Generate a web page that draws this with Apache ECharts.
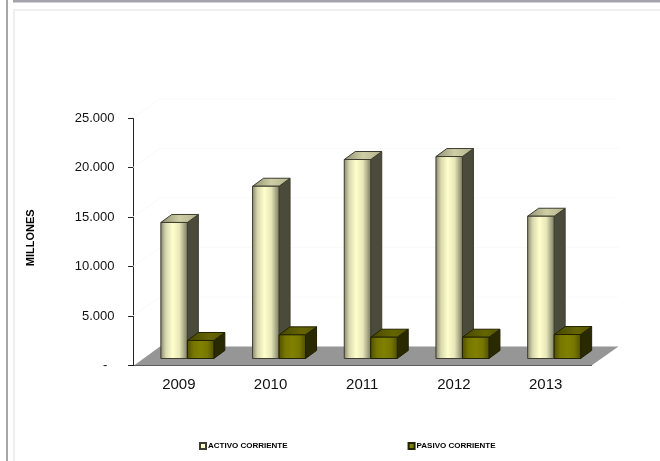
<!DOCTYPE html>
<html>
<head>
<meta charset="utf-8">
<style>html,body{margin:0;padding:0;background:#fff}#chart{width:660px;height:461px}</style>
<script src="https://cdn.jsdelivr.net/npm/echarts@6/dist/echarts.min.js"></script>
</head>
<body>
<div id="chart"></div>
<script>
const years = ['2009', '2010', '2011', '2012', '2013'];
const activoCorriente = [13740, 17400, 20100, 20400, 14370];
const pasivoCorriente = [1820, 2390, 2150, 2150, 2420];
const valueTicks = [0, 5000, 10000, 15000, 20000, 25000];

const FONT = '"Liberation Sans", Arial, sans-serif';
// Oblique projection used for the pseudo-3D look
const FLOOR_DX = 27, FLOOR_DY = -19;   // floor depth
const BAR_DX = 11, BAR_DY = -8;        // depth of one bar
const BASE_DY = -7;                    // bars stand slightly inside the floor
const BAR_W = 26.5;

function hGrad(stops) {
  return { type: 'linear', x: 0, y: 0, x2: 1, y2: 0,
    colorStops: stops.map(s => ({ offset: s[0], color: s[1] })) };
}

function barRenderer(offset, pal) {
  return function (params, api) {
    const idx = api.value(0);
    const top = api.coord([idx, api.value(1)]);
    const base = api.coord([idx, 0]);
    const x0 = top[0] + offset, x1 = x0 + BAR_W;
    const y0 = top[1] + BASE_DY, y1 = base[1] + BASE_DY;
    const stroke = { stroke: pal.stroke, lineWidth: 1, lineJoin: 'round' };
    return {
      type: 'group',
      children: [
        { type: 'polygon',
          shape: { points: [[x1, y0], [x1 + BAR_DX, y0 + BAR_DY], [x1 + BAR_DX, y1 + BAR_DY], [x1, y1]] },
          style: Object.assign({ fill: pal.side }, stroke) },
        { type: 'polygon',
          shape: { points: [[x0, y0], [x0 + BAR_DX, y0 + BAR_DY], [x1 + BAR_DX, y0 + BAR_DY], [x1, y0]] },
          style: Object.assign({ fill: pal.top }, stroke) },
        { type: 'rect',
          shape: { x: x0, y: y0, width: BAR_W, height: y1 - y0 },
          style: Object.assign({ fill: pal.front }, stroke) }
      ]
    };
  };
}

const activoPalette = {
  front: hGrad([[0, '#84846a'], [0.2, '#d8d8ae'], [0.45, '#ffffcc'], [0.7, '#e6e6b8'], [1, '#77775f']]),
  top: hGrad([[0, '#8f8f72'], [0.5, '#cfcfa6'], [1, '#b0b08c']]),
  side: '#4b4b3c',
  stroke: '#3c3c30'
};
const pasivoPalette = {
  front: hGrad([[0, '#4e4e00'], [0.25, '#777700'], [0.5, '#808000'], [0.75, '#777700'], [1, '#4e4e00']]),
  top: hGrad([[0, '#454500'], [0.6, '#666600'], [1, '#555500']]),
  side: '#2a2a00',
  stroke: '#222200'
};

const chart = echarts.init(document.getElementById('chart'), null, { renderer: 'canvas' });
chart.setOption({
  animation: false,
  backgroundColor: '#ffffff',
  grid: { left: 133, right: 68.5, top: 118, bottom: 95.5, containLabel: false },
  legend: {
    left: 199, top: 442, padding: 0,
    icon: 'rect', itemWidth: 6, itemHeight: 6, itemGap: 120,
    data: ['ACTIVO CORRIENTE', 'PASIVO CORRIENTE'],
    selectedMode: false,
    textStyle: { fontFamily: FONT, fontSize: 8, fontWeight: 'bold', color: '#000', padding: [0, 0, 0, -3] }
  },
  xAxis: {
    type: 'category', data: years, boundaryGap: true,
    axisLine: { lineStyle: { color: '#222', width: 1 } },
    axisTick: { alignWithLabel: false, length: 4, lineStyle: { color: '#222' } },
    axisLabel: { fontFamily: FONT, fontSize: 15, color: '#111', margin: 12 },
    splitLine: { show: false }
  },
  yAxis: {
    type: 'value', min: 0, max: 25000, interval: 5000,
    name: 'MILLONES', nameLocation: 'middle', nameRotate: 90, nameGap: 97,
    nameTextStyle: { fontFamily: FONT, fontSize: 11, fontWeight: 'bold', color: '#000', padding: [0, 0, 0, 8] },
    axisLine: { show: true, lineStyle: { color: '#222', width: 1 } },
    axisTick: { show: true, length: 5, lineStyle: { color: '#222' } },
    axisLabel: {
      fontFamily: FONT, fontSize: 13, color: '#111', margin: 18.5,
      formatter: v => v === 0 ? '-  ' : String(v).replace(/(\d)(\d{3})$/, '$1.$2')
    },
    splitLine: { show: false }
  },
  series: [
    {
      // faint wall gridlines that run back from each tick
      type: 'custom', name: 'wall', silent: true, z: 1,
      data: valueTicks.map(v => [0, v]),
      renderItem: (params, api) => {
        const v = api.value(1);
        const p = api.coord([0, v]);
        const x = params.coordSys.x, w = params.coordSys.width;
        if (v === 0) return null;
        return {
          type: 'polyline',
          shape: { points: [[x, p[1]], [x + FLOOR_DX, p[1] + FLOOR_DY], [x + w + FLOOR_DX, p[1] + FLOOR_DY]] },
          style: { stroke: '#fafaf7', lineWidth: 1, fill: null }
        };
      }
    },
    {
      // gray floor plane under the bars
      type: 'custom', name: 'floor', silent: true, z: 2,
      data: [[0, 0]],
      renderItem: (params, api) => {
        const p = api.coord([0, 0]);
        const x = params.coordSys.x, w = params.coordSys.width;
        return {
          type: 'polygon',
          shape: { points: [[x + 1, p[1]], [x + FLOOR_DX, p[1] + FLOOR_DY], [x + w + FLOOR_DX, p[1] + FLOOR_DY], [x + w, p[1]]] },
          style: { fill: '#969696' }
        };
      }
    },
    {
      type: 'custom', name: 'ACTIVO CORRIENTE', z: 3,
      itemStyle: { color: '#ffffcc', borderColor: '#3c3c30', borderWidth: 1 },
      data: activoCorriente.map((v, i) => [i, v]),
      renderItem: barRenderer(-18, activoPalette)
    },
    {
      type: 'custom', name: 'PASIVO CORRIENTE', z: 4,
      itemStyle: { color: '#808000', borderColor: '#222200', borderWidth: 1 },
      data: pasivoCorriente.map((v, i) => [i, v]),
      renderItem: barRenderer(8.5, pasivoPalette)
    }
  ],
  graphic: [
    // panel frame
    { type: 'rect', silent: true, shape: { x: 6, y: 0, width: 2, height: 461 }, style: { fill: '#a6a6a6' } },
    { type: 'rect', silent: true, shape: { x: 13, y: 0, width: 647, height: 2.5 }, style: { fill: '#a5a3ae' } },
    { type: 'rect', silent: true, shape: { x: 13, y: 9, width: 647, height: 2 }, style: { fill: '#efeff0' } },
    { type: 'rect', silent: true, shape: { x: 13, y: 9, width: 2, height: 452 }, style: { fill: '#efeff0' } }
  ]
});
</script>
</body>
</html>
